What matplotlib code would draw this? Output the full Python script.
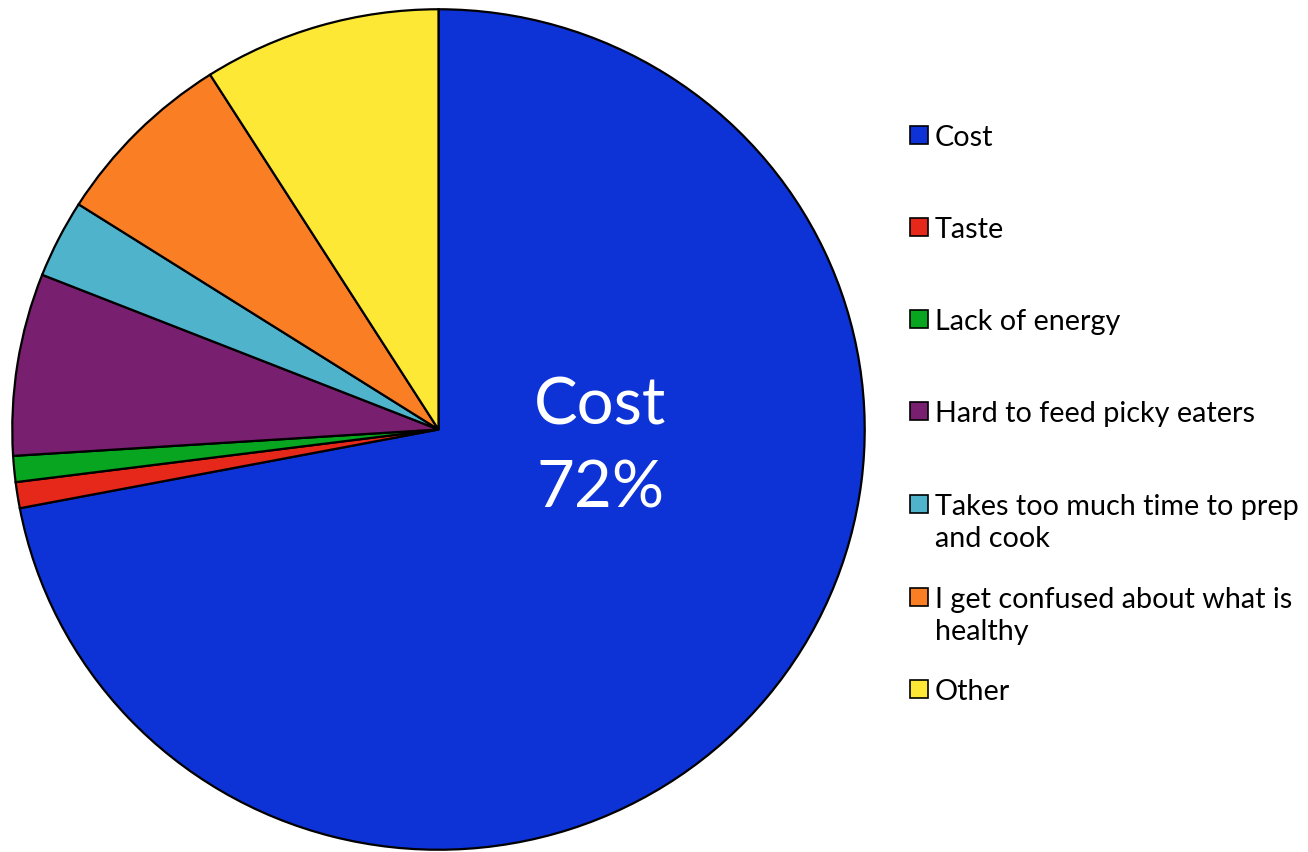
import matplotlib.pyplot as plt
from matplotlib.patches import Rectangle

plt.rcParams['font.family'] = ['Lato', 'DejaVu Sans']

# survey answers: biggest barrier to eating healthy
labels = ['Cost', 'Taste', 'Lack of energy', 'Hard to feed picky eaters',
          'Takes too much time to prep\nand cook',
          'I get confused about what is\nhealthy', 'Other']
shares = [72, 1, 1, 7, 3, 7, 9]
colors = ['#0D33D6', '#E6281B', '#08A520', '#781F70', '#4FB4CB', '#FA7F24', '#FDE835']

W, H = 1308, 853
fig = plt.figure(figsize=(W / 100, H / 100), dpi=100)

# pie axes, slightly squashed like the original export
ax = fig.add_axes([11 / W, 1 / H, 855 / W, 843 / H])
ax.pie(shares, colors=colors, startangle=90, counterclock=False,
       wedgeprops=dict(edgecolor='black', linewidth=1.6))
ax.set_aspect('auto')
ax.set_xlim(-1.003, 1.003)
ax.set_ylim(-1.003, 1.003)
ax.axis('off')

ax.text(0.38, -0.04, f'{labels[0]}\n{shares[0]}%', color='white', fontsize=47,
        ha='center', va='center', linespacing=1.5)

# legend drawn by hand so two-line entries keep even row spacing
row_y = [136, 228, 320, 412, 505, 598, 690]
sq = 18
for lab, col, y in zip(labels, colors, row_y):
    fig.patches.append(Rectangle((910 / W, (H - y - sq / 2) / H), sq / W, sq / H,
                                 facecolor=col, edgecolor='black', linewidth=1.2,
                                 transform=fig.transFigure, figure=fig))
    fig.text(935 / W, (H - y + 11) / H, lab, fontsize=20.7, ha='left', va='top',
             linespacing=1.3, color='black')

fig.savefig('out.png', dpi=100)
